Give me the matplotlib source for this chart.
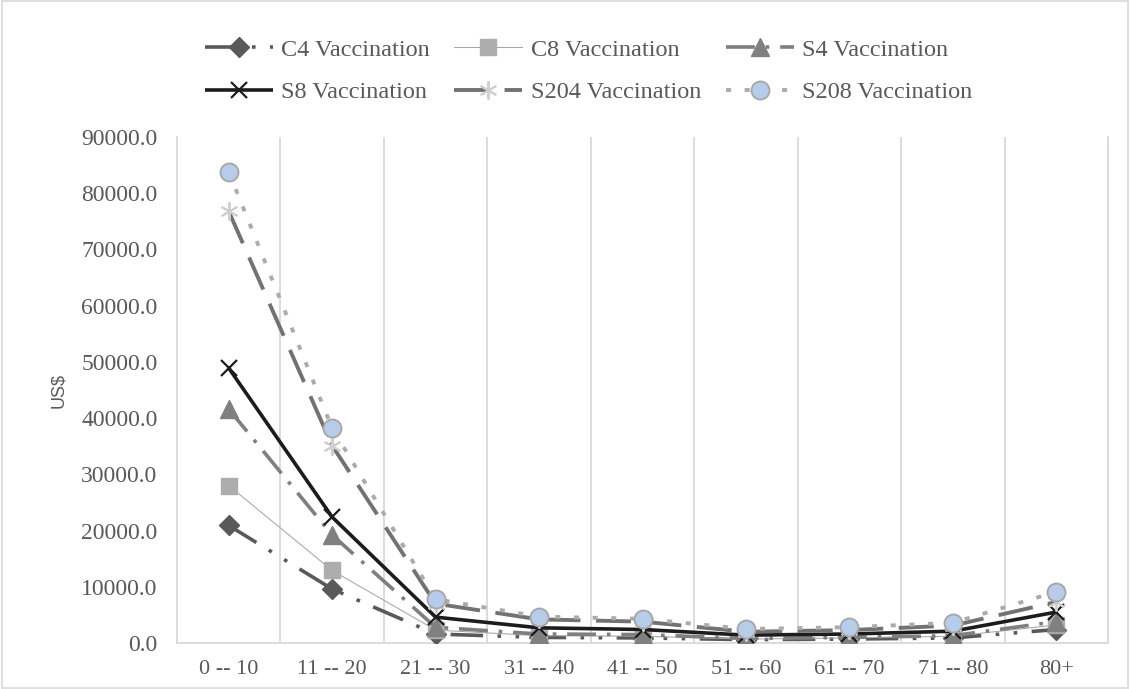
import matplotlib
matplotlib.use("Agg")
import matplotlib.pyplot as plt
from matplotlib.patches import Rectangle

categories = ["0 -- 10", "11 -- 20", "21 -- 30", "31 -- 40", "41 -- 50",
              "51 -- 60", "61 -- 70", "71 -- 80", "80+"]
c4_vacc = [20900, 9600, 1600, 1000, 900, 600, 700, 900, 2400]
c8_vacc = [28000, 12900, 2300, 1300, 1200, 700, 900, 1200, 3200]
s4_vacc = [41600, 19200, 2800, 1600, 1500, 800, 1000, 1300, 3800]
s8_vacc = [48900, 22400, 4600, 2700, 2400, 1400, 1600, 2100, 5500]
s204_vacc = [76800, 35100, 7000, 4200, 3800, 2000, 2300, 3100, 7300]
s208_vacc = [83800, 38200, 7800, 4700, 4300, 2500, 2800, 3600, 9100]
y_ticks = [0, 10000, 20000, 30000, 40000, 50000, 60000, 70000, 80000, 90000]

serif = ["Liberation Serif", "DejaVu Serif"]
tick_color = "#595959"
grid_color = "#d9d9d9"

fig = plt.figure(figsize=(11.30, 6.89), dpi=100)
ax = fig.add_axes([177/1130, 1-643/689, (1108-177)/1130, (643-137)/689])

x = list(range(len(categories)))

h_c4, = ax.plot(x, c4_vacc, color="#595959", lw=2.6, dashes=(9, 4, 1, 4, 1, 4),
                marker="D", ms=10, mfc="#595959", mec="#595959", label="C4 Vaccination", zorder=3)
h_c8, = ax.plot(x, c8_vacc, color="#a6a6a6", lw=0.75,
                marker="s", ms=12, mfc="#adadad", mec="#adadad", label="C8 Vaccination", zorder=4)
h_s4, = ax.plot(x, s4_vacc, color="#7f7f7f", lw=2.6, dashes=(8, 3, 1, 3),
                marker="^", ms=13, mfc="#808080", mec="#808080", label="S4 Vaccination", zorder=5)
h_s8, = ax.plot(x, s8_vacc, color="#1c1c1c", lw=2.6, solid_capstyle="butt",
                marker="x", ms=12, mew=1.6, mfc="#1c1c1c", mec="#1c1c1c", label="S8 Vaccination", zorder=6)
h_s204, = ax.plot(x, s204_vacc, color="#767171", lw=2.8, dashes=(9, 4),
                  marker=(6, 2, 0), ms=13, mew=1.4, mec="#d0cece", mfc="#d0cece", label="S204 Vaccination", zorder=7)
h_s208, = ax.plot(x, s208_vacc, color="#aeaaaa", lw=2.8, dashes=(1.3, 3.5), dash_capstyle="butt",
                  marker="o", ms=13, mfc="#b7cbeb", mec="#a6a6a6", mew=1.3, label="S208 Vaccination", zorder=8)

ax.set_xlim(-0.5, len(categories) - 0.5)
ax.set_ylim(0, 90000)
ax.set_yticks(y_ticks)
ax.set_yticklabels([f"{v:.1f}" for v in y_ticks], fontfamily=serif, fontsize=17, color=tick_color)
ax.set_xticks(x)
ax.set_xticklabels(categories, fontfamily=serif, fontsize=16, color=tick_color)
ax.tick_params(axis="both", length=0)
ax.tick_params(axis="y", pad=14)
ax.tick_params(axis="x", pad=12)

for b in [i + 0.5 for i in range(len(categories) - 1)]:
    ax.axvline(b, color=grid_color, lw=1.3, zorder=1)
for side in ["left", "right", "bottom"]:
    ax.spines[side].set_color(grid_color)
    ax.spines[side].set_linewidth(1.3)
ax.spines["top"].set_visible(False)

ax.set_ylabel("US$", fontfamily=["Liberation Sans", "DejaVu Sans"], fontsize=13, color=tick_color, labelpad=10)

# legend is filled column by column, so order handles to read row-wise
handles = [h_c4, h_s8, h_c8, h_s204, h_s4, h_s208]
leg = fig.legend(handles=handles, labels=[h.get_label() for h in handles],
                 loc="upper left", bbox_to_anchor=(195/1130, 1-29/689), ncol=3,
                 prop={"family": serif, "size": 17.5}, frameon=False,
                 handlelength=2.8, handletextpad=0.35, columnspacing=1.0,
                 labelspacing=0.85, borderaxespad=0)
for t in leg.get_texts():
    t.set_color(tick_color)

fig.patches.append(Rectangle((0.0015, 0.002), 0.997, 0.996, transform=fig.transFigure,
                             fill=False, edgecolor=grid_color, lw=1.2))

fig.savefig("out.png", dpi=100)
